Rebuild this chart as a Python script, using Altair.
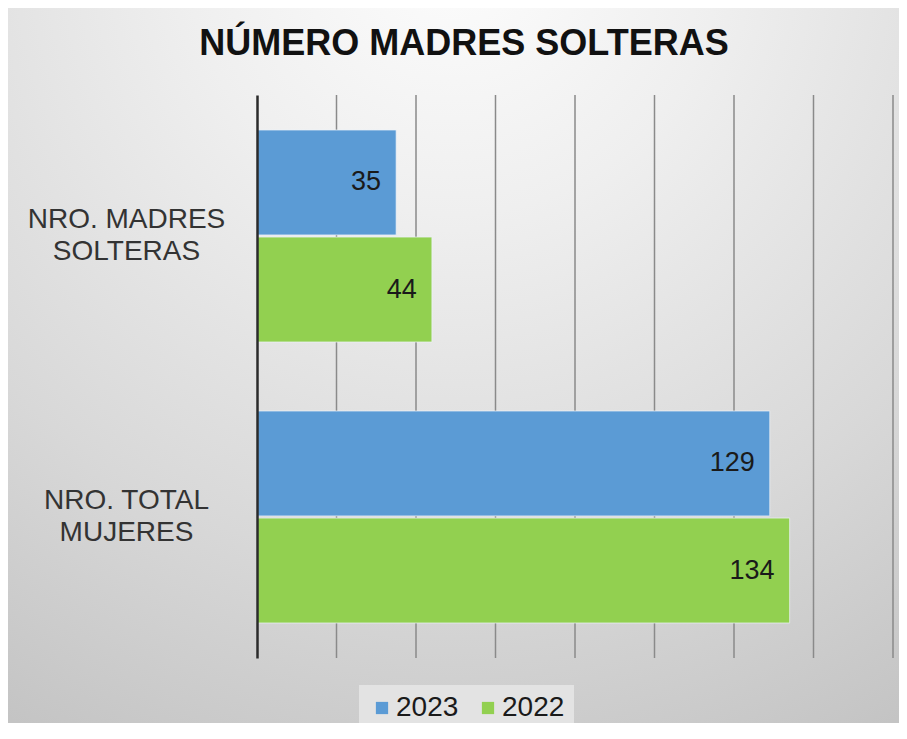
import altair as alt
import pandas as pd

# ---- data ----
categories = ["NRO. MADRES SOLTERAS", "NRO. TOTAL MUJERES"]
years = ["2023", "2022"]
values_2023 = [35, 129]
values_2022 = [44, 134]
grid_values = [20, 40, 60, 80, 100, 120, 140, 160]

rows = []
for i, c in enumerate(categories):
    rows.append({"categoria": c, "anio": "2023", "valor": values_2023[i]})
    rows.append({"categoria": c, "anio": "2022", "valor": values_2022[i]})
df = pd.DataFrame(rows)

FONT = "Liberation Sans, Arial, Helvetica, sans-serif"
BLUE = "#5B9BD5"
GREEN = "#92D050"

W, H = 636, 563
PL, PT, PR, PB = 249, 87, 6, 65

x_scale = alt.Scale(domain=[0, 160], nice=False, zero=True)

y_enc = alt.Y(
    "categoria:N",
    sort=categories,
    title=None,
    scale=alt.Scale(paddingInner=0.2456, paddingOuter=0.1246),
    axis=alt.Axis(
        ticks=False,
        tickSize=0,
        grid=False,
        domain=True,
        domainColor="#2b2b2b",
        domainWidth=2.5,
        labelAlign="center",
        labelBaseline="middle",
        labelPadding=131,
        labelOffset=-16,
        labelFont=FONT,
        labelFontSize=28,
        labelColor="#333333",
        labelLimit=400,
        labelLineHeight=32,
        labelExpr="datum.label == 'NRO. MADRES SOLTERAS' ? ['NRO. MADRES', 'SOLTERAS'] : ['NRO. TOTAL', 'MUJERES']",
        zindex=1,
    ),
)
yoff_enc = alt.YOffset("anio:N", sort=years, scale=alt.Scale(paddingInner=0.02))

bg = alt.Chart(pd.DataFrame({"k": [0]})).mark_rect(
    fill=alt.Gradient(
        gradient="radial",
        stops=[
            alt.GradientStop(offset=0, color="#fdfdfd"),
            alt.GradientStop(offset=0.3, color="#efefef"),
            alt.GradientStop(offset=0.7, color="#d8d8d8"),
            alt.GradientStop(offset=1, color="#c4c4c4"),
        ],
        x1=0.5, y1=0.03, r1=0,
        x2=0.5, y2=0.03, r2=1.0,
    )
).encode(
    x=alt.value(-PL), x2=alt.value(W + PR),
    y=alt.value(-PT), y2=alt.value(H + PB),
)

grid = alt.Chart(pd.DataFrame({"g": grid_values})).mark_rule(
    color="#8a8a8a", strokeWidth=1.5
).encode(x=alt.X("g:Q", scale=x_scale, axis=None))

bars = alt.Chart(df).mark_bar(stroke="#eef4fa", strokeWidth=1, strokeOpacity=0.7).encode(
    x=alt.X("valor:Q", scale=x_scale, axis=None),
    y=y_enc,
    yOffset=yoff_enc,
    color=alt.Color(
        "anio:N",
        sort=years,
        scale=alt.Scale(domain=years, range=[BLUE, GREEN]),
        legend=alt.Legend(
            title=None,
            orient="none",
            legendX=102,
            legendY=590,
            direction="horizontal",
            symbolType="square",
            symbolSize=150,
            symbolStrokeWidth=0,
            symbolOpacity=1,
            labelFont=FONT,
            labelFontSize=28,
            labelColor="#1a1a1a",
            labelOffset=0,
            columnPadding=15,
            fillColor="#e3e3e3",
            padding=9,
            zindex=1,
        ),
    ),
)

labels = alt.Chart(df).mark_text(
    align="right", baseline="middle", dx=-15, font=FONT, fontSize=27, color="#1a1a1a"
).encode(
    x=alt.X("valor:Q", scale=x_scale, axis=None),
    y=y_enc,
    yOffset=yoff_enc,
    text="valor:Q",
)

chart = alt.layer(bg, grid, bars, labels).properties(
    width=W,
    height=H,
    autosize=alt.AutoSizeParams(type="none"),
    padding={"left": PL, "top": PT, "right": PR, "bottom": PB},
    title=alt.TitleParams(
        "NÚMERO MADRES SOLTERAS",
        font=FONT,
        fontSize=36,
        fontWeight="bold",
        color="#111111",
        anchor="middle",
        baseline="alphabetic",
        dx=-111,
        offset=-83,
        zindex=1,
    ),
).configure_view(stroke=None)

chart.save("out.html", embed_options={"renderer": "svg", "actions": False})
